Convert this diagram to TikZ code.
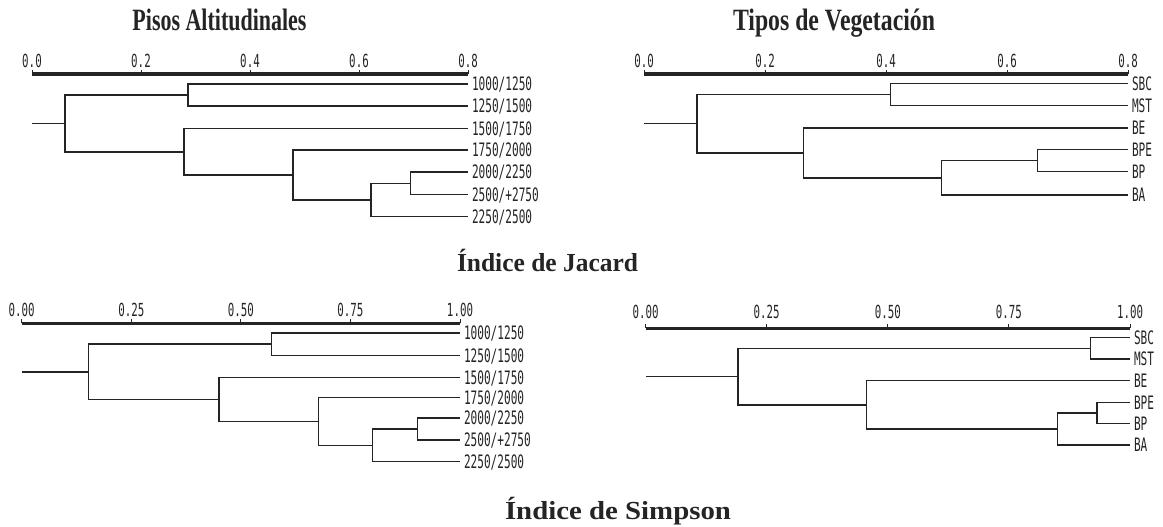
\documentclass[tikz,border=0pt]{standalone}
\usepackage{fontspec}
\usepackage{graphicx}
\setmainfont{Liberation Serif}
\newfontfamily\plotfont[FakeStretch=0.6]{DejaVu Sans Mono}
\definecolor{ink}{rgb}{0.14,0.14,0.14}
\begin{document}
\begin{tikzpicture}[x=1pt,y=-1pt,
  dline/.style={draw=ink,line width=1.5pt},
  axisline/.style={draw=ink,line width=3.6pt},
  tickline/.style={draw=ink,line width=1pt},
  leaf/.style={anchor=west,inner xsep=4pt,inner ysep=0pt,outer sep=0pt,
    font=\plotfont\fontsize{18.5}{18.5}\selectfont,text=ink,text height=13.5pt,text depth=0pt},
  ticklabel/.style={anchor=base,inner sep=0pt,font=\plotfont\fontsize{18}{18}\selectfont,text=ink},
  toptitle/.style={anchor=base,inner sep=0pt,text=ink,font=\bfseries\fontsize{31}{31}\selectfont},
  bottitle/.style={anchor=base,inner sep=0pt,text=ink,font=\bfseries\fontsize{26}{26}\selectfont}]
\useasboundingbox (0,0) rectangle (1163,527);

% ---------------- titles
\node[toptitle] (title1) at (219.5,31) {\resizebox{174pt}{\height}{Pisos Altitudinales}};
\node[toptitle] (title2) at (834,31) {\resizebox{202pt}{\height}{Tipos de Vegetación}};
\node[bottitle] (title3) at (547.5,271) {\resizebox{181pt}{\height}{Índice de Jacard}};
\node[bottitle] (title4) at (618,519) {\resizebox{226pt}{\height}{Índice de Simpson}};

% ================= TOP LEFT
\coordinate (tlA0) at (32,74); \coordinate (tlA1) at (468,74);
\draw[axisline] (tlA0) -- (tlA1);
\foreach \x/\t [count=\i] in {32/0.0,141/0.2,250/0.4,359/0.6,468/0.8}{
  \draw[tickline] (\x,74) -- (\x,70);
  \node[ticklabel] (tlt\i) at (\x,67) {\t};}
\node[leaf] (tl1) at (468,84) {1000/1250};
\node[leaf] (tl2) at (468,106) {1250/1500};
\node[leaf] (tl3) at (468,128.5) {1500/1750};
\node[leaf] (tl4) at (468,150) {1750/2000};
\node[leaf] (tl5) at (468,172) {2000/2250};
\node[leaf] (tl6) at (468,194.5) {2500/+2750};
\node[leaf] (tl7) at (468,216.7) {2250/2500};
\coordinate (tla) at (188,95);
\coordinate (tle) at (410.7,183.25);
\coordinate (tld) at (371,200);
\coordinate (tlc) at (293,175);
\coordinate (tlb) at (184,151.75);
\coordinate (tlroot) at (65,123.4);
\coordinate (tlr0) at (32,123.4);
\draw[dline] (tl1.west) -| (tla) |- (tl2.west);
\draw[dline] (tl5.west) -| (tle) |- (tl6.west);
\draw[dline] (tle) -| (tld) |- (tl7.west);
\draw[dline] (tl4.west) -| (tlc) |- (tld);
\draw[dline] (tl3.west) -| (tlb) |- (tlc);
\draw[dline] (tla) -| (tlroot) |- (tlb);
\draw[dline] (tlr0) -- (tlroot);

% ================= TOP RIGHT
\coordinate (trA0) at (644,74); \coordinate (trA1) at (1128,74);
\draw[axisline] (trA0) -- (trA1);
\foreach \x/\t [count=\i] in {644/0.0,765/0.2,886/0.4,1007/0.6,1128/0.8}{
  \draw[tickline] (\x,74) -- (\x,70);
  \node[ticklabel] (trt\i) at (\x,67) {\t};}
\node[leaf] (tr1) at (1128,83.5) {SBC};
\node[leaf] (tr2) at (1128,105.5) {MST};
\node[leaf] (tr3) at (1128,128) {BE};
\node[leaf] (tr4) at (1128,149.5) {BPE};
\node[leaf] (tr5) at (1128,171.5) {BP};
\node[leaf] (tr6) at (1128,195) {BA};
\coordinate (trs) at (890.7,94.5);
\coordinate (trp) at (1037.7,160.5);
\coordinate (trq) at (941.7,177.75);
\coordinate (trr) at (803.3,152.9);
\coordinate (trroot) at (697,123.7);
\coordinate (trr0) at (644,123.7);
\draw[dline] (tr1.west) -| (trs) |- (tr2.west);
\draw[dline] (tr4.west) -| (trp) |- (tr5.west);
\draw[dline] (trp) -| (trq) |- (tr6.west);
\draw[dline] (tr3.west) -| (trr) |- (trq);
\draw[dline] (trs) -| (trroot) |- (trr);
\draw[dline] (trr0) -- (trroot);

% ================= BOTTOM LEFT
\coordinate (blA0) at (21.7,323.3); \coordinate (blA1) at (460,323.3);
\draw[axisline] (blA0) -- (blA1);
\foreach \x/\t [count=\i] in {21.7/0.00,131.3/0.25,240.85/0.50,350.4/0.75,460/1.00}{
  \draw[tickline] (\x,323.3) -- (\x,319.3);
  \node[ticklabel] (blt\i) at (\x,316) {\t};}
\node[leaf] (bl1) at (460,333) {1000/1250};
\node[leaf] (bl2) at (460,355.3) {1250/1500};
\node[leaf] (bl3) at (460,377.5) {1500/1750};
\node[leaf] (bl4) at (460,397.5) {1750/2000};
\node[leaf] (bl5) at (460,418) {2000/2250};
\node[leaf] (bl6) at (460,440) {2500/+2750};
\node[leaf] (bl7) at (460,461.7) {2250/2500};
\coordinate (bla) at (271.7,344.2);
\coordinate (ble) at (417.7,429);
\coordinate (bld) at (372.7,445.35);
\coordinate (blc) at (318.3,421.4);
\coordinate (blb) at (219,399.5);
\coordinate (blroot) at (88.3,371.8);
\coordinate (blr0) at (21.7,371.8);
\draw[dline] (bl1.west) -| (bla) |- (bl2.west);
\draw[dline] (bl5.west) -| (ble) |- (bl6.west);
\draw[dline] (ble) -| (bld) |- (bl7.west);
\draw[dline] (bl4.west) -| (blc) |- (bld);
\draw[dline] (bl3.west) -| (blb) |- (blc);
\draw[dline] (bla) -| (blroot) |- (blb);
\draw[dline] (blr0) -- (blroot);

% ================= BOTTOM RIGHT
\coordinate (brA0) at (645.5,328.3); \coordinate (brA1) at (1130,328.3);
\draw[axisline] (brA0) -- (brA1);
\foreach \x/\t [count=\i] in {645.5/0.00,766.6/0.25,887.75/0.50,1008.9/0.75,1130/1.00}{
  \draw[tickline] (\x,328.3) -- (\x,324.3);
  \node[ticklabel] (brt\i) at (\x,318.5) {\t};}
\node[leaf] (br1) at (1130,337.5) {SBC};
\node[leaf] (br2) at (1130,359) {MST};
\node[leaf] (br3) at (1130,380.7) {BE};
\node[leaf] (br4) at (1130,402.5) {BPE};
\node[leaf] (br5) at (1130,423.5) {BP};
\node[leaf] (br6) at (1130,445) {BA};
\coordinate (brs) at (1090.5,348.25);
\coordinate (brp) at (1097,413);
\coordinate (brq) at (1057.7,429);
\coordinate (brr) at (866.6,404.9);
\coordinate (brroot) at (738,376.6);
\coordinate (brr0) at (645.5,376.6);
\draw[dline] (br1.west) -| (brs) |- (br2.west);
\draw[dline] (br4.west) -| (brp) |- (br5.west);
\draw[dline] (brp) -| (brq) |- (br6.west);
\draw[dline] (br3.west) -| (brr) |- (brq);
\draw[dline] (brs) -| (brroot) |- (brr);
\draw[dline] (brr0) -- (brroot);
\end{tikzpicture}
\end{document}
